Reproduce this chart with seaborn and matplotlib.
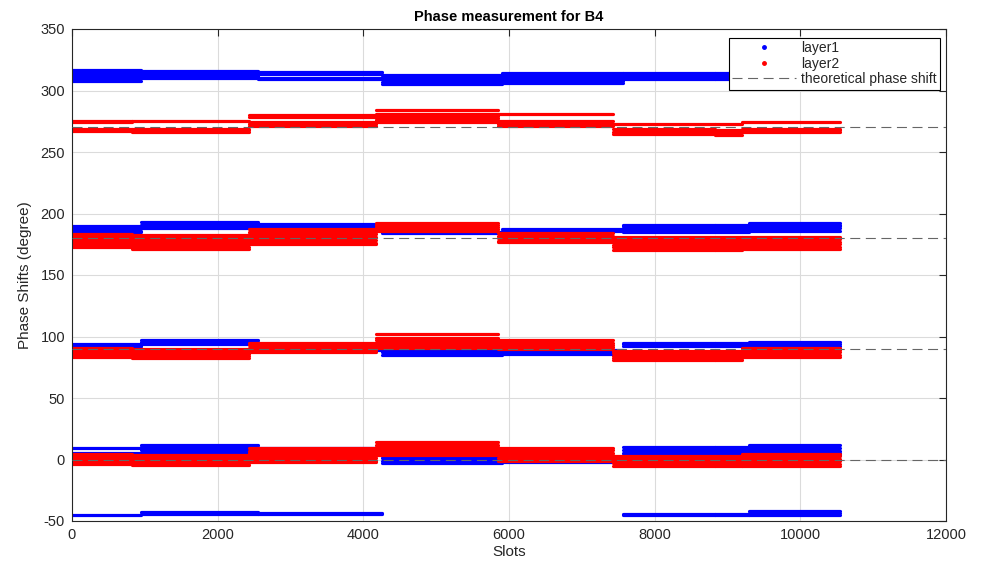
import numpy as np
import pandas as pd
import matplotlib
matplotlib.use("Agg")
import matplotlib.pyplot as plt
from matplotlib.lines import Line2D
import seaborn as sns

# Slot ranges of the measurement runs for each layer
layer1_segments = [(0, 950), (950, 2550), (2550, 4250), (4250, 5900),
                   (5900, 7560), (7560, 8830), (8830, 9300), (9300, 10550)]
layer2_segments = [(0, 820), (820, 2430), (2430, 4175), (4175, 5850),
                   (5850, 7430), (7430, 8830), (8830, 9200), (9200, 10550)]

# Measured phase levels (degree) per run, grouped by band
layer1_310 = [[316.5, 314.5, 313, 310, 308], [315.5, 314, 311.5, 310.5],
              [315, 313.5, 310.5, 309], [313, 311, 309, 307, 305],
              [314, 312, 310, 308, 306], [314, 311.5, 309.5],
              [314, 311.5, 309.5], [314, 312, 310]]
layer1_185 = [[190, 188, 186, 185], [193, 191, 189, 188],
              [191.5, 190, 188, 187], [185, 184], [187.5, 186],
              [191, 189.5, 188, 186.5, 185], [191, 189.5, 188, 186.5, 185],
              [192.5, 191, 189.5, 188, 186]]
layer1_90 = [[94, 92, 91], [97, 95.5, 94], [92, 90, 89], [89, 87, 85],
             [89, 87.5, 86], [95, 93.5, 92.5], [95, 93.5, 92.5],
             [95.5, 94, 92.5]]
layer1_5 = [[9, 5, 3], [12, 10, 7.5, 5.5], [9.5, 8, 6.5], [3, 1, -1, -2.5],
            [1.5, 0, -2], [10, 7.5, 5.5, 3.5, 1.5], [10, 7.5, 5.5, 3.5, 1.5],
            [12, 9.5, 7, 5, 3.5]]
layer1_m44 = [[-45], [-42.5, -44], [-43.5, -44.5], [], [],
              [-44, -45], [-44, -45], [-42, -43.5, -45]]

layer2_270 = [[275.5, 274, 268.5, 267], [275, 269, 267.5, 266],
              [280, 278.5, 274, 272.5, 271],
              [284.5, 280.5, 279, 277.5, 276, 274.5],
              [281, 275, 273, 271], [273, 268.5, 266.5, 264.5],
              [272.5, 268, 266, 264], [274.5, 269, 267.5, 266]]
layer2_180 = [[183, 181, 178.5, 176.5, 174.5, 172.5],
              [182.5, 180, 177.5, 175, 173, 171.5],
              [187, 185, 183, 181, 178.5, 176, 175],
              [192.5, 191, 189, 187.5, 186],
              [184, 182, 180, 178, 176.5],
              [180.5, 178.5, 176.5, 174.5, 172.5, 170.5],
              [180.5, 178.5, 176.5, 174.5, 172.5, 170.5],
              [181, 179, 177, 175, 173, 171]]
layer2_90 = [[91, 89, 87, 85, 83.5], [90, 88, 86, 84, 82.5],
             [95, 93, 91, 89, 87], [102, 99, 97.5, 95, 93.5, 92, 91],
             [97, 95, 93, 91.5, 90], [88.5, 86.5, 84.5, 82.5, 80.5],
             [88.5, 86.5, 84.5, 82.5, 80.5], [91, 89, 87, 85, 83]]
layer2_0 = [[4.5, 2.5, 0.5, -1.5, -3.5], [3.5, 1.5, -0.5, -2.5, -4.5],
            [9.5, 7, 5, 3, 1, -1, -2], [14, 12, 10, 8, 6, 4],
            [9.5, 7.5, 5.5, 3.5, 1.5, -1], [3, 1, -1, -3, -5.5],
            [3, 1, -1, -3, -5.5], [4.5, 2.5, 0.5, -1.5, -3.5, -5]]

theoretical_shifts = [0, 90, 180, 270]
x_ticks = [0, 2000, 4000, 6000, 8000, 10000, 12000]
y_ticks = [-50, 0, 50, 100, 150, 200, 250, 300, 350]


def build_rows(layer, segments, bands, start_id):
    rows = []
    tid = start_id
    for band in bands:
        for (x0, x1), levels in zip(segments, band):
            for y in levels:
                rows.append((layer, tid, x0, y))
                rows.append((layer, tid, x1, y))
                tid += 1
    return rows, tid


rows1, nid = build_rows("layer1", layer1_segments,
                        [layer1_310, layer1_185, layer1_90, layer1_5, layer1_m44], 0)
rows2, _ = build_rows("layer2", layer2_segments,
                      [layer2_270, layer2_180, layer2_90, layer2_0], nid)
df = pd.DataFrame(rows1 + rows2, columns=["layer", "trace", "slot", "phase"])

sns.set_theme(style="white")
plt.rcParams["font.family"] = ["Liberation Sans", "DejaVu Sans"]
plt.rcParams["axes.unicode_minus"] = False

fig = plt.figure(figsize=(9.87, 5.64), dpi=100)
ax = fig.add_axes([72 / 987, 1 - 521 / 564, 874 / 987, 492 / 564])

sns.lineplot(data=df, x="slot", y="phase", hue="layer", units="trace",
             estimator=None, sort=False,
             palette={"layer1": (0, 0, 1), "layer2": (1, 0, 0)},
             linewidth=2.3, solid_capstyle="round", legend=False, ax=ax)

dash = (0, (9, 5))
for s in theoretical_shifts:
    ax.plot([0, 12000], [s, s], color=(0.4, 0.4, 0.4), linestyle=dash,
            linewidth=0.8, zorder=3)

ax.set_xlim(0, 12000)
ax.set_ylim(-50, 350)
ax.set_xticks(x_ticks)
ax.set_yticks(y_ticks)
ax.grid(True, color=(0.86, 0.86, 0.86), linewidth=0.8)
ax.set_axisbelow(True)
for sp in ax.spines.values():
    sp.set_color((0.15, 0.15, 0.15))
    sp.set_linewidth(0.8)
ax.tick_params(direction="in", length=5, width=0.8, top=True, right=True,
               colors=(0.15, 0.15, 0.15), labelsize=10.5, pad=5)

ax.set_title("Phase measurement for B4", fontsize=10.5, fontweight="bold",
             color="black", pad=6)
ax.set_xlabel("Slots", fontsize=11, color=(0.15, 0.15, 0.15), labelpad=2)
ax.set_ylabel("Phase Shifts (degree)", fontsize=11, color=(0.15, 0.15, 0.15),
              labelpad=6)

handles = [
    Line2D([], [], color=(0, 0, 1), marker=".", linestyle="none", markersize=5),
    Line2D([], [], color=(1, 0, 0), marker=".", linestyle="none", markersize=5),
    Line2D([], [], color=(0.4, 0.4, 0.4), linestyle=dash, linewidth=0.8),
]
leg = ax.legend(handles, ["layer1", "layer2", "theoretical phase shift"],
                loc="upper right", bbox_to_anchor=(0.9935, 0.982),
                fontsize=10, frameon=True, fancybox=False, framealpha=1,
                edgecolor="black", handlelength=4.6, labelspacing=0.1,
                borderpad=0.25, handletextpad=0.35, borderaxespad=0)
leg.get_frame().set_linewidth(0.8)
for t in leg.get_texts():
    t.set_color((0.15, 0.15, 0.15))

fig.savefig("out.png", dpi=100)
